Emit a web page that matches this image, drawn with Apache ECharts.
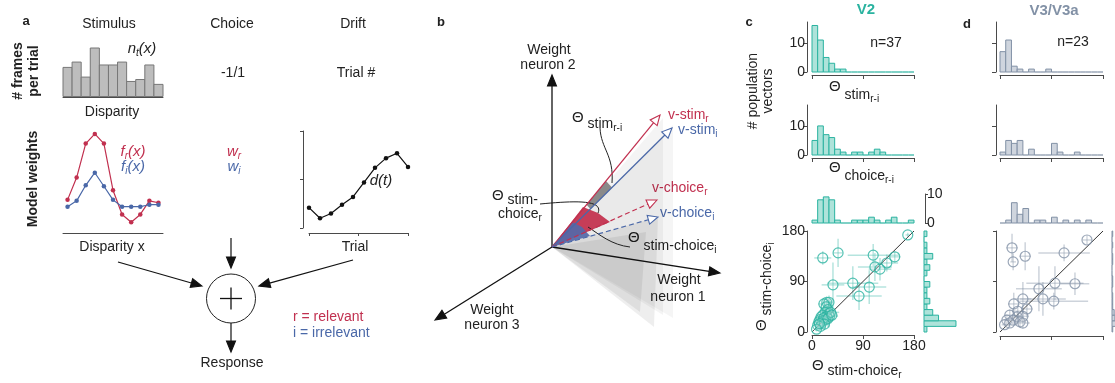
<!DOCTYPE html>
<html>
<head>
<meta charset="utf-8">
<script src="https://cdn.jsdelivr.net/npm/echarts@6/dist/echarts.min.js"></script>
<style>
  html, body { margin: 0; padding: 0; background: #fff; }
  #chart { width: 1115px; height: 383px; }
</style>
</head>
<body>
<div id="chart"></div>
<script>
const FONT = "'Liberation Sans', Arial, sans-serif";
const RED = '#c1304f', BLUE = '#4a68a8';
const TEAL = '#2ab3a0', TEAL_FILL = '#aee3da', TEAL_ERR = 'rgba(42,179,160,0.35)';
const SLATE = '#8291a6', SLATE_FILL = '#cfd5de', SLATE_ERR = 'rgba(130,145,166,0.4)';
const AX = '#4a4a4a';

// ---- panel a
const disparityBins = ['-5', '-4', '-3', '-2', '-1', '0', '1', '2', '3', '4', '5'];
const framesPerTrial = [0.6, 0.71, 0.4, 1.0, 0.65, 0.65, 0.71, 0.31, 0.35, 0.65, 0.25];
const weightRelevant = [0.29, 0.52, 0.87, 0.97, 0.87, 0.39, 0.14, 0.06, 0.14, 0.28, 0.26];
const weightIrrelevant = [0.22, 0.28, 0.44, 0.57, 0.43, 0.29, 0.22, 0.22, 0.22, 0.24, 0.24];
const tickBins = [1, 5, 9];
const driftTrial = [0, 1, 2, 3, 4, 5, 6, 7, 8, 9];
const driftValue = [0.21, 0.10, 0.15, 0.24, 0.32, 0.47, 0.62, 0.72, 0.77, 0.63];

// ---- panel b (schematic, units relative to origin)
const neuronAxes = [[0, 17.2], [16.8, -2.6], [-11.7, -7.3]];
const stimVec = { r: [10.8, 13.2], i: [12.0, 11.9] };
const choiceVec = { r: [10.5, 4.7], i: [10.6, 3.0] };
const sheets = [
  [[0, 0], [12.1, 12.2], [12.1, -7.1]],
  [[0, 0], [11.1, 12.9], [11.1, -6.8]],
  [[0, 0], [10.6, 3.0], [10.2, -8.0]],
  [[0, 0], [9.4, 1.5], [8.8, -6.5]]
];
const wedgeRed = [[0, 0], [3.1, 4.0], [4.6, 3.4], [5.8, 2.5]];
const wedgeBlue = [[0, 0], [2.0, 2.5], [3.0, 2.0], [3.8, 1.1]];
const leaders = [
  [[4.8, 11.9], [4.9, 9.8], [6.2, 9.2], [6.0, 6.4]],
  [[-1.2, 4.3], [2.0, 4.6], [5.2, 4.8], [4.6, 3.4]],
  [[3.6, 2.0], [4.8, 1.2], [6.0, 0.2], [7.8, 0.0]]
];

// ---- panels c / d
const binEdges = [0, 10, 20, 30, 40, 50, 60, 70, 80, 90, 100, 110, 120, 130, 140, 150, 160, 170, 180];
const v2StimRI      = [16, 11, 5, 3, 1, 1, 0, 0, 0, 0, 0, 0, 0, 0, 0, 0, 0, 0];
const v2ChoiceRI    = [5, 10, 7, 6, 2, 1, 0, 1, 1, 0, 1, 2, 1, 0, 0, 0, 0, 0];
const v2StimChoiceR = [1, 8, 9, 8, 1, 0, 0, 1, 1, 1, 2, 1, 0, 1, 2, 0, 0, 1];
const v2StimChoiceI = [1, 11, 5, 3, 1, 2, 1, 1, 2, 0, 1, 2, 1, 3, 1, 1, 0, 1];
const v2X    = [169, 19, 46, 108, 111, 132, 146, 120, 72, 101, 37, 83, 26, 30, 21, 25, 28, 23, 30, 19, 16, 26, 31, 14, 19, 24, 12, 17, 21, 28, 10, 15, 22, 8, 33, 35, 13];
const v2Y    = [173, 132, 141, 137, 116, 123, 134, 112, 87, 80, 84, 64, 53, 53, 50, 45, 40, 35, 33, 30, 27, 28, 28, 22, 20, 22, 18, 16, 25, 24, 12, 10, 14, 5, 35, 30, 15];
const v2Xerr = [4, 15, 8, 45, 30, 20, 10, 20, 45, 30, 20, 40, 8, 6, 10, 6, 12, 5, 10, 6, 5, 8, 15, 5, 6, 10, 4, 6, 8, 12, 4, 5, 8, 4, 15, 10, 5];
const v2Yerr = [4, 12, 25, 20, 25, 15, 10, 20, 30, 30, 40, 25, 10, 12, 8, 15, 20, 10, 25, 8, 6, 12, 10, 6, 8, 10, 5, 6, 10, 15, 5, 5, 8, 4, 20, 12, 5];

const v3StimRI      = [7, 11, 2, 1, 0, 1, 0, 0, 1, 0, 0, 0, 0, 0, 0, 0, 0, 0];
const v3ChoiceRI    = [1, 5, 4, 5, 0, 2, 0, 0, 0, 4, 1, 0, 0, 1, 0, 0, 0, 0];
const v3StimChoiceR = [0, 1, 7, 3, 5, 0, 1, 1, 0, 2, 0, 1, 0, 1, 0, 1, 0, 0];
const v3StimChoiceI = [1, 6, 4, 3, 1, 1, 1, 0, 1, 1, 0, 0, 1, 1, 0, 1, 0, 1];
const v3X    = [152, 21, 23, 44, 112, 96, 131, 68, 75, 94, 40, 24, 47, 31, 17, 30, 40, 12, 23, 35, 40, 17, 8];
const v3Y    = [164, 150, 125, 135, 141, 87, 86, 77, 59, 55, 59, 50, 41, 37, 30, 27, 28, 21, 21, 18, 16, 16, 13];
const v3Xerr = [8, 10, 5, 10, 45, 50, 25, 40, 40, 60, 15, 10, 10, 10, 8, 12, 10, 6, 8, 10, 12, 6, 5];
const v3Yerr = [8, 25, 15, 25, 15, 30, 20, 40, 30, 15, 30, 20, 15, 12, 10, 10, 12, 8, 8, 10, 10, 8, 6];

// ---------- helpers
const mctx = document.createElement('canvas').getContext('2d');
const fontStr = s => `${s.italic ? 'italic ' : ''}${s.bold ? 'bold ' : ''}${s.size || 14}px ${FONT}`;
const widthOf = s => { mctx.font = fontStr(s); return mctx.measureText(s.t).width; };

// segs laid out in a row; subscripts via dy
function label(x, y, segs, opt = {}) {
  const total = segs.reduce((a, s) => a + widthOf(s), 0);
  let cx = opt.align === 'left' ? 0 : opt.align === 'right' ? -total : -total / 2;
  const children = segs.map(s => {
    const el = {
      type: 'text', x: cx, y: s.dy || 0, silent: true,
      style: { text: s.t, font: fontStr(s), fill: s.color || opt.color || '#222',
               textAlign: 'left', textVerticalAlign: 'middle', align: 'left', verticalAlign: 'middle' }
    };
    cx += widthOf(s);
    return el;
  });
  return { type: 'group', x, y, rotation: opt.rot || 0, children };
}
const txt = (x, y, t, opt = {}) => label(x, y, [{ t, size: opt.size || 14, bold: opt.bold, italic: opt.italic }], opt);

function arrowEls(p0, p1, o) {
  const dx = p1[0] - p0[0], dy = p1[1] - p0[1], len = Math.hypot(dx, dy);
  const ux = dx / len, uy = dy / len, L = o.L || 10, W = o.W || 4;
  const bx = p1[0] - ux * L, by = p1[1] - uy * L;
  return [
    { type: 'line', shape: { x1: p0[0], y1: p0[1], x2: bx, y2: by },
      style: { stroke: o.color, lineWidth: o.lw || 1.2, lineDash: o.dash || null } },
    { type: 'polygon', shape: { points: [[p1[0], p1[1]], [bx - uy * W, by + ux * W], [bx + uy * W, by - ux * W]] },
      style: { fill: o.hollow ? '#fff' : o.color, stroke: o.color, lineWidth: 1.1 } }
  ];
}

const bins = counts => counts.map((c, i) => [binEdges[i], binEdges[i + 1], c]);

function histRender(stroke, fill, horizontal) {
  return (params, api) => {
    const lo = api.value(0), hi = api.value(1), n = api.value(2);
    if (!horizontal) {
      const p0 = api.coord([lo, 0]), p1 = api.coord([hi, n]);
      if (n === 0) return { type: 'line', shape: { x1: p0[0], y1: p0[1], x2: p1[0], y2: p0[1] }, style: { stroke, lineWidth: 1.2 } };
      return { type: 'rect', shape: { x: p0[0], y: p1[1], width: p1[0] - p0[0], height: p0[1] - p1[1] }, style: { fill, stroke, lineWidth: 1 } };
    }
    const p0 = api.coord([0, lo]), p1 = api.coord([n, hi]);
    if (n === 0) return { type: 'line', shape: { x1: p0[0], y1: p0[1], x2: p0[0], y2: p1[1] }, style: { stroke, lineWidth: 1.2 } };
    return { type: 'rect', shape: { x: p0[0], y: p1[1], width: p1[0] - p0[0], height: p0[1] - p1[1] }, style: { fill, stroke, lineWidth: 1 } };
  };
}

// gray frames histogram on the category axis, bars touching
function frameBar(params, api) {
  const top = api.coord([api.value(0), api.value(1)]);
  const base = api.coord([api.value(0), 0]);
  const w = api.size([1, 0])[0];
  return { type: 'rect', shape: { x: top[0] - w / 2, y: top[1], width: w, height: base[1] - top[1] },
    style: { fill: '#bdbdbd', stroke: '#777', lineWidth: 1 } };
}

function errRender(color) {
  return (params, api) => {
    const x = api.value(0), y = api.value(1), ex = api.value(2), ey = api.value(3);
    const a = api.coord([x - ex, y]), b = api.coord([x + ex, y]);
    const c = api.coord([x, y - ey]), d = api.coord([x, y + ey]);
    return { type: 'group', children: [
      { type: 'line', shape: { x1: a[0], y1: a[1], x2: b[0], y2: b[1] }, style: { stroke: color, lineWidth: 1.5 } },
      { type: 'line', shape: { x1: c[0], y1: c[1], x2: d[0], y2: d[1] }, style: { stroke: color, lineWidth: 1.5 } }
    ] };
  };
}

// ---------- grids: [left, top, width, height]
const grids = [
  [63, 48, 100, 48.5],   // 0 a hist
  [63, 131, 100, 97],    // 1 a weights
  [309, 131, 99, 97],    // 2 a drift
  [812, 22, 102, 50],    // 3 c hist1
  [812, 105, 102, 50],   // 4 c hist2
  [812, 194, 102, 29],   // 5 c top marginal
  [812, 231, 102, 101],  // 6 c scatter
  [924, 231, 50, 101],   // 7 c right marginal
  [1000, 22, 103, 50],   // 8 d hist1
  [1000, 105, 103, 50],  // 9 d hist2
  [1000, 194, 103, 29],  // 10 d top marginal
  [1000, 231, 103, 101], // 11 d scatter
  [1112, 231, 50, 101],  // 12 d right marginal
  [420, 30, 300, 300]    // 13 b schematic
];

const line = { onZero: false, lineStyle: { color: AX, width: 1 } };
const tick = (len, extra) => Object.assign({ length: len, lineStyle: { color: AX, width: 1 } }, extra || {});
const noLab = { show: false };
const lab = extra => Object.assign({ color: '#222', fontSize: 14, fontFamily: FONT }, extra || {});
const hidden = (g, min, max) => ({ gridIndex: g, type: 'value', min, max, show: false, axisLine: { onZero: false } });
const degX = (g, showLab) => ({ gridIndex: g, type: 'value', min: 0, max: 180, interval: 90, offset: 3,
  axisLine: line, axisTick: tick(4), axisLabel: showLab ? lab({ margin: 4 }) : noLab, splitLine: { show: false } });
const cntY = (g, off, showLab) => ({ gridIndex: g, type: 'value', min: 0, max: 17.2, offset: off,
  axisLine: line, axisTick: tick(4, { customValues: [0, 10] }),
  axisLabel: showLab ? lab({ customValues: [0, 10], margin: 2 }) : noLab, splitLine: { show: false } });
const catX = (g, off) => ({ gridIndex: g, type: 'category', data: disparityBins, boundaryGap: true, offset: off,
  axisLine: line, axisTick: tick(3, { alignWithLabel: true, interval: i => tickBins.includes(i) }),
  axisLabel: noLab, splitLine: { show: false } });
const unitY = (g, off) => ({ gridIndex: g, type: 'value', min: 0, max: 1, interval: 0.5, offset: off,
  axisLine: line, axisTick: tick(3), axisLabel: noLab, splitLine: { show: false } });

const xAxis = [
  catX(0, 1), catX(1, 5),
  { gridIndex: 2, type: 'value', min: 0, max: 9, interval: 4.5, offset: 5, axisLine: line, axisTick: tick(3), axisLabel: noLab, splitLine: { show: false } },
  degX(3, false), degX(4, false), hidden(5, 0, 180), degX(6, true), hidden(7, 0, 17.2),
  degX(8, false), degX(9, false), hidden(10, 0, 180), Object.assign(degX(11, false), { offset: 4 }), hidden(12, 0, 17.2),
  hidden(13, -13.2, 16.8)
];
const yAxis = [
  unitY(0, 5), unitY(1, 5), unitY(2, 6),
  cntY(3, 5, true), cntY(4, 5, true),
  { gridIndex: 5, type: 'value', position: 'right', min: 0, max: 10, interval: 10, offset: 11,
    axisLine: line, axisTick: tick(3), axisLabel: lab({ margin: 2 }), splitLine: { show: false } },
  { gridIndex: 6, type: 'value', min: 0, max: 180, interval: 90, offset: 5,
    axisLine: line, axisTick: tick(3), axisLabel: lab({ margin: 2 }), splitLine: { show: false } },
  hidden(7, 0, 180),
  cntY(8, 4, false), cntY(9, 4, false), hidden(10, 0, 10),
  { gridIndex: 11, type: 'value', min: 0, max: 180, interval: 90, offset: 4,
    axisLine: line, axisTick: tick(3), axisLabel: noLab, splitLine: { show: false } },
  hidden(12, 0, 180),
  hidden(13, -8.3, 21.7)
];

const zip = (...arrs) => arrs[0].map((_, i) => arrs.map(a => a[i]));

function panelSeries(g, h1, h2, top, right, X, Y, Xe, Ye, stroke, fill, err) {
  return [
    { type: 'custom', xAxisIndex: g, yAxisIndex: g, data: bins(h1), renderItem: histRender(stroke, fill) },
    { type: 'custom', xAxisIndex: g + 1, yAxisIndex: g + 1, data: bins(h2), renderItem: histRender(stroke, fill) },
    { type: 'custom', xAxisIndex: g + 2, yAxisIndex: g + 2, data: bins(top), renderItem: histRender(stroke, fill) },
    { type: 'custom', xAxisIndex: g + 4, yAxisIndex: g + 4, data: bins(right), renderItem: histRender(stroke, fill, true),
      encode: { x: 2, y: [0, 1] } },
    { type: 'custom', xAxisIndex: g + 3, yAxisIndex: g + 3, data: zip(X, Y, Xe, Ye), renderItem: errRender(err), z: 1 },
    { type: 'line', xAxisIndex: g + 3, yAxisIndex: g + 3, data: [[0, 0], [180, 180]], symbol: 'none',
      lineStyle: { color: '#333', width: 1 }, z: 2, silent: true },
    { type: 'scatter', xAxisIndex: g + 3, yAxisIndex: g + 3, data: zip(X, Y), symbol: 'circle', symbolSize: 10,
      itemStyle: { color: 'rgba(255,255,255,0.15)', borderColor: stroke, borderWidth: 1.2 }, z: 3 }
  ];
}

// ---------- panel b renderer
function panelB(params, api) {
  const c = p => api.coord(p);
  const O = c([0, 0]);
  const sheetFill = ['rgba(0,0,0,0.04)', 'rgba(0,0,0,0.045)', 'rgba(0,0,0,0.065)', 'rgba(0,0,0,0.065)'];
  const kids = [];
  sheets.forEach((s, k) => kids.push({ type: 'polygon', shape: { points: s.map(c) }, style: { fill: sheetFill[k] } }));
  const sc = (v, t) => [v[0] * t, v[1] * t];
  kids.push({ type: 'polygon', shape: { points: [sc(stimVec.r, 0.32), sc(stimVec.r, 0.5), sc(stimVec.i, 0.5), sc(stimVec.i, 0.32)].map(c) },
    style: { fill: '#8a8a8a' } });
  kids.push({ type: 'polygon', shape: { points: wedgeRed.map(c) }, style: { fill: '#c63d58' } });
  kids.push({ type: 'polygon', shape: { points: wedgeBlue.map(c) }, style: { fill: 'rgba(84,104,168,0.92)' } });
  leaders.forEach(b => {
    const p = b.map(c);
    kids.push({ type: 'bezierCurve', shape: { x1: p[0][0], y1: p[0][1], cpx1: p[1][0], cpy1: p[1][1], cpx2: p[2][0], cpy2: p[2][1], x2: p[3][0], y2: p[3][1] },
      style: { stroke: '#222', lineWidth: 1, fill: null } });
  });
  neuronAxes.forEach(v => kids.push(...arrowEls(O, c(v), { color: '#111', L: 11, W: 4.5, lw: 1.3 })));
  kids.push(...arrowEls(O, c(stimVec.r), { color: RED, hollow: true, L: 10, W: 4.5 }));
  kids.push(...arrowEls(O, c(stimVec.i), { color: BLUE, hollow: true, L: 10, W: 4.5 }));
  kids.push(...arrowEls(O, c(choiceVec.r), { color: RED, hollow: true, dash: [5, 3], L: 10, W: 4.5 }));
  kids.push(...arrowEls(O, c(choiceVec.i), { color: BLUE, hollow: true, dash: [5, 3], L: 10, W: 4.5 }));
  return { type: 'group', children: kids };
}

const series = [
  { type: 'custom', xAxisIndex: 0, yAxisIndex: 0, data: zip(disparityBins.map((_, i) => i), framesPerTrial), renderItem: frameBar },
  { type: 'line', xAxisIndex: 1, yAxisIndex: 1, data: weightRelevant, symbol: 'circle', symbolSize: 4.5,
    itemStyle: { color: RED }, lineStyle: { color: RED, width: 1.2 } },
  { type: 'line', xAxisIndex: 1, yAxisIndex: 1, data: weightIrrelevant, symbol: 'circle', symbolSize: 4.5,
    itemStyle: { color: BLUE }, lineStyle: { color: BLUE, width: 1.2 } },
  { type: 'line', xAxisIndex: 2, yAxisIndex: 2, data: zip(driftTrial, driftValue), symbol: 'circle', symbolSize: 4.5,
    itemStyle: { color: '#111' }, lineStyle: { color: '#111', width: 1.2 } },
  ...panelSeries(3, v2StimRI, v2ChoiceRI, v2StimChoiceR, v2StimChoiceI, v2X, v2Y, v2Xerr, v2Yerr, TEAL, TEAL_FILL, TEAL_ERR),
  ...panelSeries(8, v3StimRI, v3ChoiceRI, v3StimChoiceR, v3StimChoiceI, v3X, v3Y, v3Xerr, v3Yerr, SLATE, SLATE_FILL, SLATE_ERR),
  { type: 'custom', xAxisIndex: 13, yAxisIndex: 13, data: [[0, 0]], renderItem: panelB, silent: true }
];

// ---------- text + schematic arrows of panel a
const R = Math.PI / 2;
const sub = (t, dy) => ({ t, size: 10, dy: dy == null ? 4 : dy });
const graphic = [
  // panel a
  txt(26, 21, 'a', { bold: true, size: 13 }),
  txt(109, 24, 'Stimulus'), txt(232, 24, 'Choice'), txt(353, 24, 'Drift'),
  label(142, 49, [{ t: 'n', italic: true, size: 15 }, { t: 't', italic: true, size: 10, dy: 4 }, { t: '(x)', italic: true, size: 15 }]),
  txt(233, 73, '-1/1'), txt(356, 73, 'Trial #'),
  txt(112, 112, 'Disparity'), txt(112, 247, 'Disparity x'), txt(355, 247, 'Trial'),
  txt(18, 71, '# frames', { bold: true, rot: R }), txt(34, 71, 'per trial', { bold: true, rot: R }),
  txt(33, 179, 'Model weights', { bold: true, rot: R }),
  label(133, 152, [{ t: 'f', italic: true, size: 15 }, { t: 'r', italic: true, size: 10, dy: 4 }, { t: '(x)', italic: true, size: 15 }], { color: RED }),
  label(133, 167, [{ t: 'f', italic: true, size: 15 }, { t: 'i', italic: true, size: 10, dy: 4 }, { t: '(x)', italic: true, size: 15 }], { color: BLUE }),
  label(234, 152, [{ t: 'w', italic: true, size: 15 }, { t: 'r', italic: true, size: 10, dy: 4 }], { color: RED }),
  label(234, 167, [{ t: 'w', italic: true, size: 15 }, { t: 'i', italic: true, size: 10, dy: 4 }], { color: BLUE }),
  txt(381, 181, 'd(t)', { italic: true, size: 15 }),
  txt(232, 363, 'Response'),
  txt(293, 317, 'r = relevant', { align: 'left', color: RED }),
  txt(293, 333, 'i = irrelevant', { align: 'left', color: BLUE }),
  ...arrowEls([118, 262], [202, 286], { color: '#111', L: 11, W: 4.5 }),
  ...arrowEls([353, 260], [259, 286], { color: '#111', L: 11, W: 4.5 }),
  ...arrowEls([231, 238], [231, 268], { color: '#111', L: 11, W: 4.5 }),
  ...arrowEls([231, 323], [231, 352], { color: '#111', L: 11, W: 4.5 }),
  { type: 'circle', shape: { cx: 231, cy: 298.5, r: 24.5 }, style: { fill: 'none', stroke: '#222', lineWidth: 1 } },
  { type: 'line', shape: { x1: 220, y1: 298.5, x2: 242, y2: 298.5 }, style: { stroke: '#111', lineWidth: 1.3 } },
  { type: 'line', shape: { x1: 231, y1: 287.5, x2: 231, y2: 309.5 }, style: { stroke: '#111', lineWidth: 1.3 } },

  // panel b
  txt(441, 22, 'b', { bold: true, size: 13 }),
  txt(549, 50, 'Weight'), txt(548, 65, 'neuron 2'),
  txt(679, 280, 'Weight'), txt(678, 297, 'neuron 1'),
  txt(492, 310, 'Weight'), txt(492, 325, 'neuron 3'),
  label(668, 115, [{ t: 'v-stim' }, sub('r')], { align: 'left', color: RED }),
  label(678, 130, [{ t: 'v-stim' }, sub('i')], { align: 'left', color: BLUE }),
  label(652, 188, [{ t: 'v-choice' }, sub('r')], { align: 'left', color: RED }),
  label(660, 213, [{ t: 'v-choice' }, sub('i')], { align: 'left', color: BLUE }),
  label(572, 118, [{ t: 'Θ', size: 15 }, { t: ' stim', dy: 6 }, sub('r-i', 10)], { align: 'left' }),
  label(492, 196, [{ t: 'Θ', size: 15 }, { t: ' stim-', dy: 4 }], { align: 'left' }),
  label(498, 214, [{ t: 'choice' }, sub('r')], { align: 'left' }),
  label(628, 238, [{ t: 'Θ', size: 15 }, { t: ' stim-choice', dy: 8 }, sub('i', 12)], { align: 'left' }),

  // panel c
  txt(749, 22, 'c', { bold: true, size: 13 }),
  txt(866, 10, 'V2', { bold: true, size: 15, color: TEAL }),
  txt(886, 43, 'n=37'),
  label(829, 87, [{ t: 'Θ', size: 15 }, { t: ' stim', dy: 8 }, sub('r-i', 12)], { align: 'left' }),
  label(829, 168, [{ t: 'Θ', size: 15 }, { t: ' choice', dy: 8 }, sub('r-i', 12)], { align: 'left' }),
  txt(753, 91, '# population', { rot: R }), txt(768, 91, 'vectors', { rot: R }),
  label(812, 366, [{ t: 'Θ', size: 15 }, { t: ' stim-choice', dy: 5 }, sub('r', 9)], { align: 'left' }),
  label(762, 331, [{ t: 'Θ', size: 15 }, { t: ' stim-choice', dy: 5 }, sub('i', 9)], { align: 'left', rot: R }),

  // panel d
  txt(967, 24, 'd', { bold: true, size: 13 }),
  txt(1054, 11, 'V3/V3a', { bold: true, size: 15, color: SLATE }),
  txt(1073, 42, 'n=23')
];

const chart = echarts.init(document.getElementById('chart'));
chart.setOption({
  animation: false,
  backgroundColor: '#fff',
  textStyle: { fontFamily: FONT },
  grid: grids.map(g => ({ left: g[0], top: g[1], width: g[2], height: g[3], show: false })),
  xAxis, yAxis, series, graphic
});
</script>
</body>
</html>
